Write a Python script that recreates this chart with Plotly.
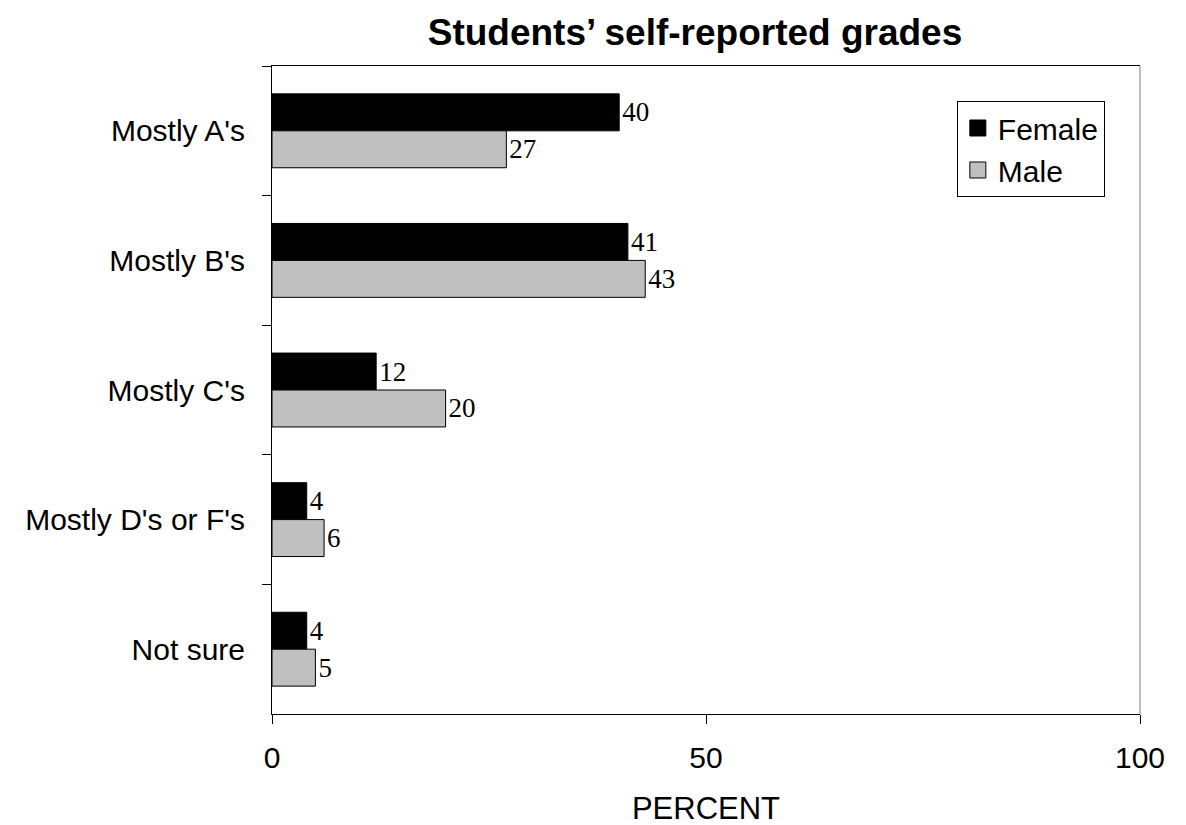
import plotly.graph_objects as go

categories = ["Mostly A's", "Mostly B's", "Mostly C's", "Mostly D's or F's", "Not sure"]
female = [40, 41, 12, 4, 4]
male = [27, 43, 20, 6, 5]
x_ticks = [0, 50, 100]

SERIF = "Liberation Serif, Times New Roman, serif"
SANS = "Liberation Sans, Arial, sans-serif"

fig = go.Figure()
fig.add_trace(go.Bar(
    y=categories, x=female, name="Female", orientation="h",
    marker=dict(color="black", line=dict(color="black", width=1)),
    text=[str(v) for v in female], textposition="outside",
    textfont=dict(family=SERIF, size=27, color="black"),
    cliponaxis=False, showlegend=False,
))
fig.add_trace(go.Bar(
    y=categories, x=male, name="Male", orientation="h",
    marker=dict(color="#c0c0c0", line=dict(color="black", width=1)),
    text=[str(v) for v in male], textposition="outside",
    textfont=dict(family=SERIF, size=27, color="black"),
    cliponaxis=False, showlegend=False,
))
# legend entries with larger square swatches
fig.add_trace(go.Scatter(
    x=[None], y=[None], mode="markers", name="Female",
    marker=dict(symbol="square", size=20, color="black", line=dict(color="black", width=1)),
))
fig.add_trace(go.Scatter(
    x=[None], y=[None], mode="markers", name="Male",
    marker=dict(symbol="square", size=20, color="#c0c0c0", line=dict(color="black", width=1)),
))

fig.update_layout(
    width=1186, height=825,
    margin=dict(l=264, r=54, t=58, b=119),
    paper_bgcolor="white", plot_bgcolor="white",
    barmode="group", bargap=0.43, bargroupgap=0,
    font=dict(family=SANS, size=30, color="black"),
    title=dict(text="<b>Students’ self-reported grades</b>", x=687 / 1186, xanchor="center",
               xref="container", yref="container",
               y=1 - 24 / 825, yanchor="middle",
               font=dict(family=SANS, size=37, color="black")),
    legend=dict(x=0.789, y=0.946, xanchor="left", yanchor="top",
                bordercolor="black", borderwidth=1, bgcolor="white",
                traceorder="normal", font=dict(size=30),
                itemwidth=30),
    showlegend=True,
    shapes=[dict(type="line", xref="paper", yref="paper", x0=1, x1=1, y0=0, y1=1,
                 line=dict(color="#808080", width=1))],
)
fig.update_xaxes(
    range=[0, 100], tickvals=x_ticks, ticktext=[str(v) for v in x_ticks],
    showgrid=False, zeroline=False,
    showline=True, linecolor="black", linewidth=1, mirror=True,
    ticks="outside", ticklen=9, tickcolor="black",
    title=dict(text="PERCENT", font=dict(size=31), standoff=24),
    tickfont=dict(size=30), ticklabelstandoff=8, automargin=False,
)
fig.update_yaxes(
    autorange="reversed", showgrid=False, zeroline=False,
    showline=True, linecolor="black", linewidth=1, mirror=False,
    ticks="outside", ticklen=9, tickcolor="black", tickson="boundaries",
    tickfont=dict(size=30), ticklabelstandoff=20, automargin=False,
)

fig.write_html("out.html")
